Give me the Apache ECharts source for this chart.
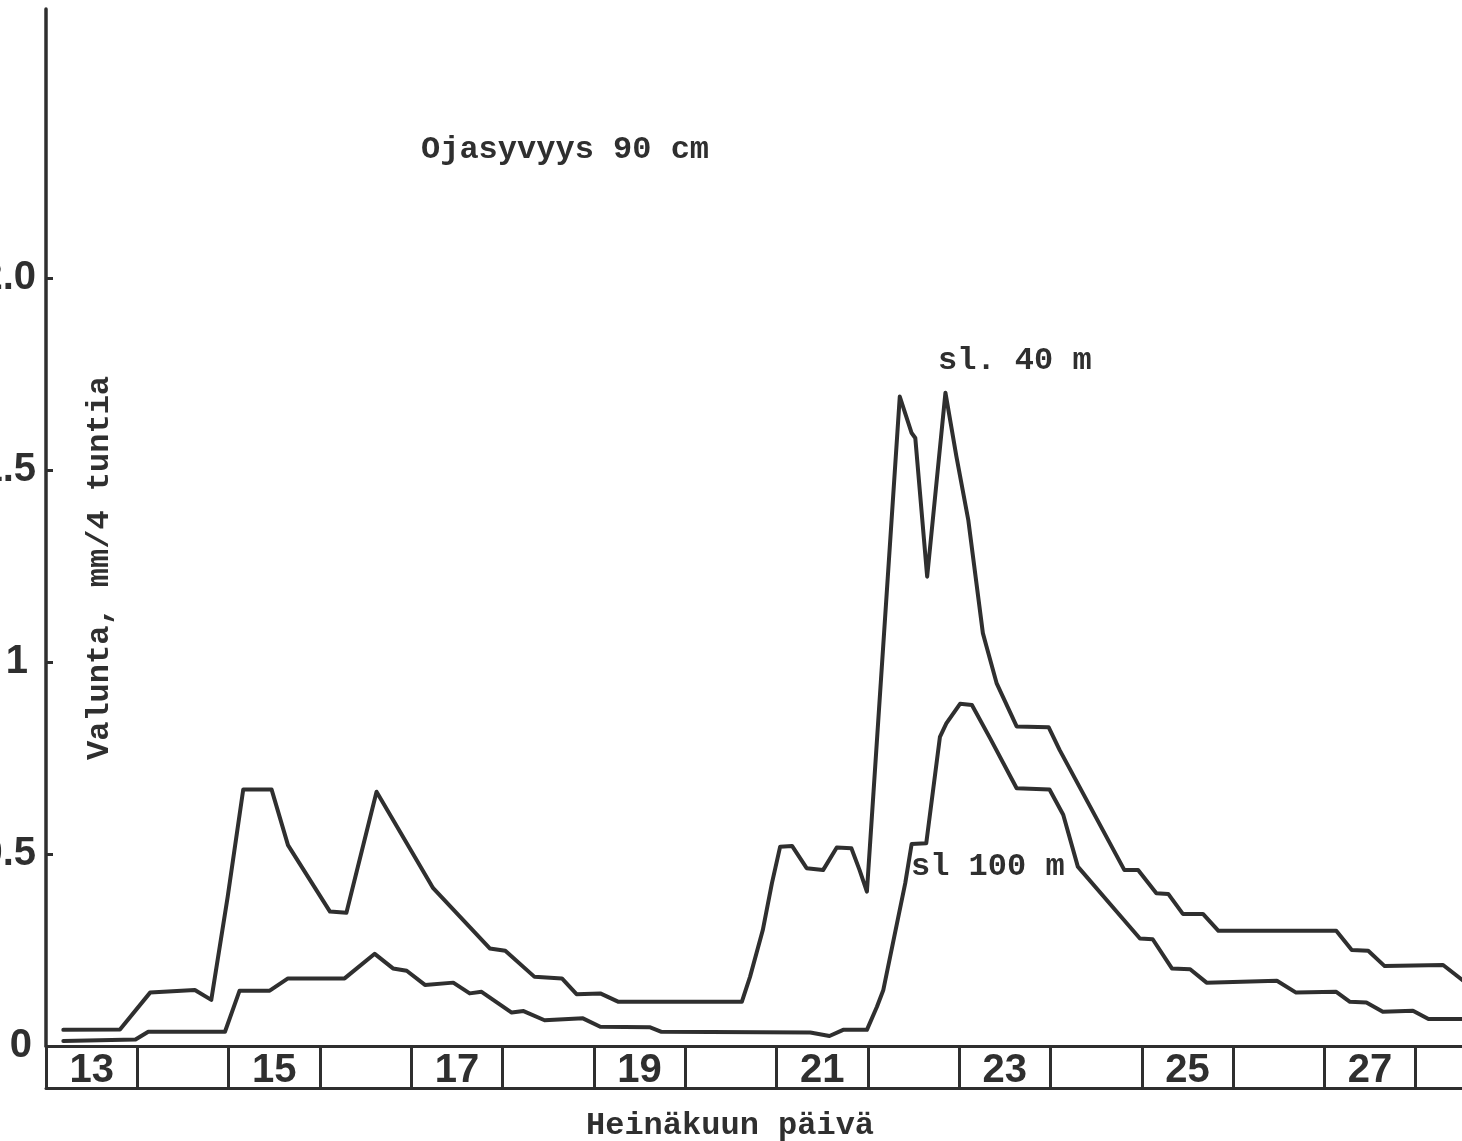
<!DOCTYPE html>
<html>
<head>
<meta charset="utf-8">
<title>Valunta, ojasyvyys 90 cm</title>
<script src="https://cdn.jsdelivr.net/npm/echarts@6/dist/echarts.min.js"></script>
<style>
  html, body { margin: 0; padding: 0; background: #ffffff; }
  #chart { width: 1462px; height: 1141px; }
</style>
</head>
<body>
<div id="chart"></div>
<script>
// July days shown in the boxed date row (only odd days are labelled)
const days = ['13','14','15','16','17','18','19','20','21','22','23','24','25','26','27','28'];

// Y axis ticks and their printed labels
const yTicks = [0, 0.5, 1, 1.5, 2];
const yTickLabels = ['0', '0.5', '1', '1.5', '2.0'];

// Runoff, mm per 4 hours: [day of July, value], drain spacing 40 m
const sl40 = [
  [13.19,0.042],[13.81,0.043],[14.14,0.139],[14.63,0.146],[14.81,0.120],[14.99,0.389],
  [15.16,0.668],[15.47,0.668],[15.65,0.523],[16.11,0.350],[16.29,0.347],[16.62,0.662],
  [17.24,0.411],[17.86,0.254],[18.03,0.248],[18.35,0.180],[18.65,0.176],[18.81,0.135],
  [19.07,0.137],[19.27,0.115],[20.62,0.115],[20.71,0.180],[20.85,0.302],[20.95,0.424],
  [21.04,0.519],[21.17,0.521],[21.33,0.463],[21.51,0.458],[21.66,0.517],[21.82,0.515],
  [21.91,0.458],[21.99,0.402],[22.35,1.691],[22.48,1.596],[22.52,1.583],[22.65,1.222],
  [22.85,1.701],[22.97,1.535],[23.10,1.370],[23.26,1.075],[23.30,1.040],[23.41,0.945],
  [23.63,0.832],[23.98,0.830],[24.10,0.771],[24.81,0.458],[24.96,0.458],[25.16,0.398],
  [25.29,0.396],[25.45,0.344],[25.67,0.344],[25.84,0.300],[27.13,0.300],[27.30,0.250],
  [27.48,0.248],[27.66,0.208],[28.30,0.211],[28.50,0.174],[28.62,0.150]
];

// Runoff, mm per 4 hours: [day of July, value], drain spacing 100 m
const sl100 = [
  [13.19,0.013],[13.98,0.017],[14.12,0.037],[14.96,0.037],[15.12,0.144],[15.45,0.144],
  [15.65,0.176],[16.27,0.176],[16.60,0.240],[16.80,0.202],[16.95,0.196],[17.15,0.159],
  [17.46,0.165],[17.64,0.137],[17.77,0.141],[18.10,0.087],[18.23,0.091],[18.46,0.067],
  [18.88,0.072],[19.07,0.050],[19.61,0.049],[19.74,0.037],[21.37,0.035],[21.58,0.026],
  [21.73,0.042],[21.99,0.042],[22.10,0.102],[22.17,0.146],[22.32,0.320],[22.41,0.424],
  [22.48,0.526],[22.64,0.528],[22.79,0.805],[22.86,0.840],[23.01,0.891],[23.14,0.888],
  [23.34,0.801],[23.63,0.671],[23.99,0.668],[24.14,0.602],[24.30,0.467],[24.71,0.354],
  [24.98,0.280],[25.12,0.278],[25.33,0.202],[25.53,0.200],[25.71,0.165],[26.48,0.170],
  [26.69,0.139],[27.13,0.141],[27.28,0.115],[27.46,0.113],[27.64,0.089],[27.97,0.092],
  [28.14,0.070],[28.62,0.070]
];

const INK = '#2f2f2f';
const MONO = "'Liberation Mono', 'DejaVu Sans Mono', monospace";
const DIGITS = "'Liberation Sans', Arial, sans-serif";
const BOX_H = 42;

const chart = echarts.init(document.getElementById('chart'), null, { renderer: 'canvas' });

function typeText(text, x, y, rotation) {
  return {
    type: 'text',
    x: x, y: y,
    rotation: rotation || 0,
    silent: true,
    style: {
      text: text,
      font: 'bold 32px ' + MONO,
      fill: INK,
      align: 'left', verticalAlign: 'middle',
      textAlign: 'left', textVerticalAlign: 'middle'
    }
  };
}

const digitStyle = { fontFamily: DIGITS, fontWeight: 'bold', fontSize: 40, color: INK };

const option = {
  backgroundColor: '#ffffff',
  animation: false,
  grid: {
    left: 46, top: 9, width: 1461, height: 1037,
    containLabel: false,
    outerBoundsMode: 'none'
  },
  xAxis: [
    {
      // boxed date row: ticks form the cell walls, labels sit in the cells
      type: 'category',
      data: days,
      boundaryGap: true,
      position: 'bottom',
      axisLine: { show: true, lineStyle: { color: INK, width: 3 } },
      axisTick: { show: true, interval: 0, length: BOX_H, lineStyle: { color: INK, width: 3 } },
      axisLabel: Object.assign({
        interval: 0,
        margin: 5,
        formatter: function (v) { return Number(v) % 2 === 1 ? v : ''; }
      }, digitStyle),
      splitLine: { show: false }
    },
    {
      // numeric day scale used by the runoff lines
      type: 'value', min: 13, max: 29, show: false
    },
    {
      // bottom edge of the date row
      type: 'category',
      data: days,
      position: 'bottom',
      offset: BOX_H,
      axisLine: { show: true, lineStyle: { color: INK, width: 3 } },
      axisTick: { show: false },
      axisLabel: { show: false },
      splitLine: { show: false }
    }
  ],
  yAxis: {
    type: 'value',
    min: 0,
    max: 2.7,
    axisLine: { show: true, lineStyle: { color: INK, width: 3.5 } },
    axisTick: { show: true, inside: true, length: 7, customValues: yTicks, lineStyle: { color: INK, width: 3 } },
    axisLabel: {
      customValues: yTicks,
      margin: 10,
      align: 'right',
      formatter: function (v) {
        const i = yTicks.indexOf(v);
        const t = i >= 0 ? yTickLabels[i] : '';
        if (t === '1') return '{one|' + t + '}';
        if (t === '0') return '{zero|' + t + '}';
        return '{n|' + t + '}';
      },
      rich: {
        n: Object.assign({ padding: [0, 0, 0, 0] }, digitStyle),
        one: Object.assign({ padding: [0, 8, 0, 0] }, digitStyle),
        zero: Object.assign({ padding: [0, 4, 0, 0] }, digitStyle)
      }
    },
    splitLine: { show: false }
  },
  series: [
    {
      name: 'sl. 40 m',
      type: 'line',
      xAxisIndex: 1,
      data: sl40,
      symbol: 'none',
      silent: true,
      lineStyle: { color: INK, width: 4, join: 'round', cap: 'round' }
    },
    {
      name: 'sl 100 m',
      type: 'line',
      xAxisIndex: 1,
      data: sl100,
      symbol: 'none',
      silent: true,
      lineStyle: { color: INK, width: 4, join: 'round', cap: 'round' }
    }
  ],
  graphic: [
    typeText('Ojasyvyys 90 cm', 421, 150),
    typeText('sl. 40 m', 938, 361),
    typeText('sl 100 m', 911, 867),
    typeText('Heinäkuun päivä', 586, 1126),
    typeText('Valunta, mm/4 tuntia', 100, 760, Math.PI / 2)
  ]
};

chart.setOption(option);
</script>
</body>
</html>
